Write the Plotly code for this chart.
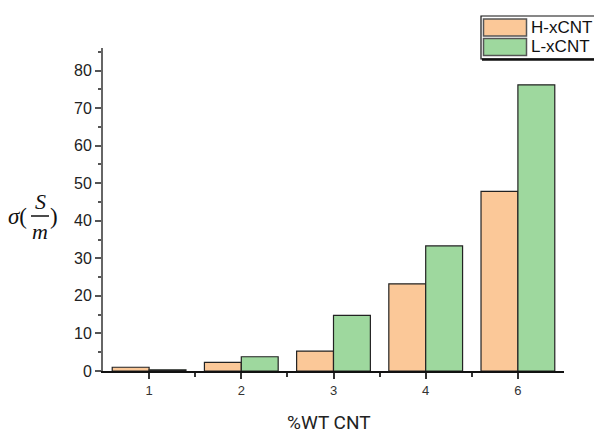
import plotly.graph_objects as go

categories = ["1", "2", "3", "4", "6"]
h_values = [1.0, 2.3, 5.3, 23.2, 47.8]
l_values = [0.3, 3.8, 14.8, 33.3, 76.2]
series_names = ["H-xCNT", "L-xCNT"]
y_ticks = [0, 10, 20, 30, 40, 50, 60, 70, 80]

# page has an 8px body margin; compensate
OFF = 8
W, H = 602 - OFF, 434 - OFF
PL, PR, PT, PB = 103, 564, 48, 371   # plot area in page pixels
L, T = PL - OFF, PT - OFF
R, B = W - (PR - OFF), H - (PB - OFF)
PW, PH = PR - PL, PB - PT

def px(x):
    return (x - PL) / PW

def py(y):
    return (PB - y) / PH

orange = "#FBC898"
green = "#9ED89E"

xpos = list(range(len(categories)))

fig = go.Figure()
fig.add_trace(go.Bar(x=xpos, y=h_values, name=series_names[0], marker=dict(color=orange, line=dict(color="#222", width=1.2))))
fig.add_trace(go.Bar(x=xpos, y=l_values, name=series_names[1], marker=dict(color=green, line=dict(color="#222", width=1.2))))

fig.update_layout(
    width=W, height=H,
    margin=dict(l=L, r=R, t=T, b=B),
    paper_bgcolor="white", plot_bgcolor="white",
    barmode="group", bargap=0.2, bargroupgap=0,
    showlegend=False,
    font=dict(family="Arial, Liberation Sans", size=14, color="#222"),
)
fig.update_xaxes(
    range=[-0.5, len(categories) - 0.5],
    tickvals=xpos, ticktext=categories,
    ticks="outside", ticklen=6, tickwidth=1.5, tickcolor="#333",
    showline=True, linecolor="#111", linewidth=2,
    showgrid=False, zeroline=False,
    minor=dict(tickvals=[i + 0.5 for i in xpos[:-1]], ticks="outside", ticklen=4, tickcolor="#333", tickwidth=1.5),
    tickfont=dict(size=13, color="#333"),
)
fig.update_yaxes(
    range=[0, 86],
    tickvals=y_ticks,
    ticks="outside", ticklen=6, tickwidth=1.5, tickcolor="#555",
    showline=True, linecolor="#666", linewidth=2,
    showgrid=False, zeroline=False,
    minor=dict(dtick=5, ticks="outside", ticklen=3, tickcolor="#555", tickwidth=1.5),
    tickfont=dict(size=16, color="#222"),
)

ann = []
# x-axis title
ann.append(dict(x=px(329), y=py(422), xref="paper", yref="paper", text="%WT CNT", showarrow=False,
                font=dict(family="Roboto", size=19, color="#222"), xanchor="center", yanchor="middle"))
# y-axis title sigma(S/m)
ann.append(dict(x=px(17), y=py(216), xref="paper", yref="paper", text="<i>σ</i>(", showarrow=False,
                font=dict(family="Liberation Serif", size=23, color="#111"), xanchor="center", yanchor="middle"))
ann.append(dict(x=px(40), y=py(201), xref="paper", yref="paper", text="<i>S</i>", showarrow=False,
                font=dict(family="Liberation Serif", size=22, color="#111"), xanchor="center", yanchor="middle"))
ann.append(dict(x=px(40), y=py(231), xref="paper", yref="paper", text="<i>m</i>", showarrow=False,
                font=dict(family="Liberation Serif", size=22, color="#111"), xanchor="center", yanchor="middle"))
ann.append(dict(x=px(54), y=py(216), xref="paper", yref="paper", text=")", showarrow=False,
                font=dict(family="Liberation Serif", size=23, color="#111"), xanchor="center", yanchor="middle"))

shapes = []
# fraction bar
shapes.append(dict(type="line", xref="paper", yref="paper", x0=px(31), x1=px(49), y0=py(216), y1=py(216),
                   line=dict(color="#111", width=1.5)))
# custom legend
shapes.append(dict(type="rect", xref="paper", yref="paper", x0=px(481), x1=px(600), y0=py(16), y1=py(59),
                   line=dict(color="#111", width=1.2), fillcolor="white", layer="above"))
shapes.append(dict(type="line", xref="paper", yref="paper", x0=px(482), x1=px(600), y0=py(59.5), y1=py(59.5),
                   line=dict(color="#111", width=2.5)))
for i, (c, name) in enumerate(zip([orange, green], series_names)):
    y0 = 19 + i * 19.5
    shapes.append(dict(type="rect", xref="paper", yref="paper", x0=px(483.5), x1=px(526.5), y0=py(y0), y1=py(y0 + 17),
                       line=dict(color="#555", width=1.5), fillcolor=c, layer="above"))
    ann.append(dict(x=px(529), y=py(y0 + 8.5), xref="paper", yref="paper", text=name, showarrow=False,
                    font=dict(family="Arial, Liberation Sans", size=17, color="#111"), xanchor="left", yanchor="middle"))

fig.update_layout(annotations=ann, shapes=shapes)
fig.write_html("out.html")
